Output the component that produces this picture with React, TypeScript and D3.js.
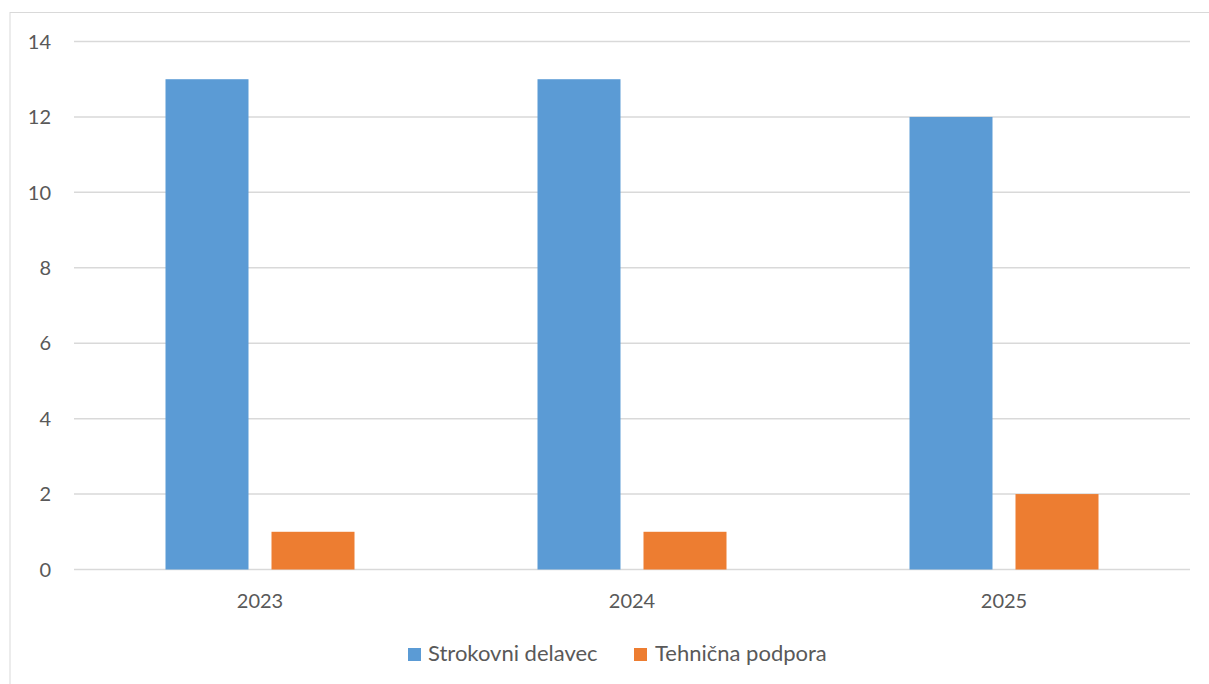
import React from "react";
import * as d3 from "d3";

const categories = ["2023", "2024", "2025"];
const seriesNames = ["Strokovni delavec", "Tehnična podpora"];
const strokovni = [13, 13, 12];
const tehnicna = [1, 1, 2];
const yTicks = [0, 2, 4, 6, 8, 10, 12, 14];
const colors = ["#5B9BD5", "#ED7D31"];

export default function App() {
  const W = 1209, H = 684;
  const left = 74, right = 1190, top = 41.5, bottom = 569.5;
  const x = d3.scaleBand().domain(categories).range([left, right]).paddingInner(0).paddingOuter(0);
  const y = d3.scaleLinear().domain([0, 14]).range([bottom, top]);
  const series = [strokovni, tehnicna];
  const barW = 83, gap = 23;
  const font = "Lato, 'Open Sans', sans-serif";
  return (
    <svg width={W} height={H} style={{ position: "absolute", left: 0, top: 0, background: "#fff" }}>
      <rect x={10} y={12.5} width={1230} height={700} fill="none" stroke="#d9d9d9" strokeWidth={1} />
      {yTicks.map((t) => (
        <g key={t}>
          <line x1={left} x2={right} y1={y(t)} y2={y(t)} stroke="#d9d9d9" strokeWidth={1.5} />
          <text x={51} y={y(t)} dy="0.36em" textAnchor="end" fontFamily={font} fontSize={20} fill="#595959">{t}</text>
        </g>
      ))}
      {categories.map((c, i) => {
        const cx = x(c)! + x.bandwidth() / 2;
        return (
          <g key={c}>
            {series.map((s, k) => {
              const bx = k === 0 ? cx - gap / 2 - barW : cx + gap / 2;
              return <rect key={k} x={bx} y={y(s[i])} width={barW} height={y(0) - y(s[i])} fill={colors[k]} />;
            })}
            <text x={cx} y={608} textAnchor="middle" fontFamily={font} fontSize={20} fill="#595959">{c}</text>
          </g>
        );
      })}
      <g>
        <rect x={408} y={648} width={13} height={13} fill={colors[0]} />
        <text x={428} y={661} fontFamily={font} fontSize={22} fill="#595959">{seriesNames[0]}</text>
        <rect x={634} y={648} width={13} height={13} fill={colors[1]} />
        <text x={655} y={661} fontFamily={font} fontSize={22} fill="#595959">{seriesNames[1]}</text>
      </g>
    </svg>
  );
}
